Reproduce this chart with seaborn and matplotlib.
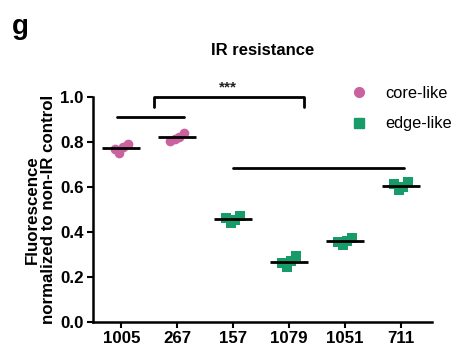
import numpy as np
import pandas as pd
import matplotlib
matplotlib.use("Agg")
import matplotlib.pyplot as plt
import seaborn as sns
from matplotlib.lines import Line2D

# cell lines in plotting order
lines = ["1005", "267", "157", "1079", "1051", "711"]
core_lines = ["1005", "267"]
edge_lines = ["157", "1079", "1051", "711"]

# fluorescence values (4 replicates per line, left to right)
v1005 = [0.768, 0.752, 0.778, 0.792]
v267 = [0.805, 0.812, 0.822, 0.838]
v157 = [0.462, 0.440, 0.450, 0.470]
v1079 = [0.262, 0.245, 0.270, 0.290]
v1051 = [0.355, 0.340, 0.360, 0.372]
v711 = [0.612, 0.585, 0.600, 0.622]
reps = ["r1", "r2", "r3", "r4"]

values = [v1005, v267, v157, v1079, v1051, v711]
df = pd.DataFrame({
    "line": np.repeat(lines, [len(v) for v in values]),
    "value": np.concatenate(values),
    "rep": reps * len(values),
})
df["type"] = np.where(df["line"].isin(core_lines), "core-like", "edge-like")
core = df[df["type"] == "core-like"]
edge = df[df["type"] == "edge-like"]

pink = "#C9629E"
green = "#179B68"

# replicates are dodged side by side; empty padding levels keep the spread narrow
rep_order = ["p1", "p2", "p3"] + reps + ["p4", "p5", "p6"]

sns.set_style("ticks", {"axes.edgecolor": "black", "text.color": "black",
                        "axes.labelcolor": "black", "xtick.color": "black",
                        "ytick.color": "black"})
plt.rcParams["font.family"] = ["Liberation Sans", "DejaVu Sans"]
plt.rcParams["font.weight"] = "bold"

fig = plt.figure(figsize=(4.56, 3.53), dpi=100)
ax = fig.add_axes([0.2046, 0.0887, 0.742, 0.6373])

sns.stripplot(data=core, x="line", y="value", order=lines, hue="rep", hue_order=rep_order,
              palette=[pink] * len(rep_order), dodge=True, jitter=False, legend=False,
              marker="o", size=7, linewidth=0, ax=ax, zorder=2)
sns.stripplot(data=edge, x="line", y="value", order=lines, hue="rep", hue_order=rep_order,
              palette=[green] * len(rep_order), dodge=True, jitter=False, legend=False,
              marker="s", size=6.5, linewidth=0, ax=ax, zorder=2)
sns.pointplot(data=df, x="line", y="value", order=lines, estimator="mean",
              errorbar=None, linestyle="none", color="black", markers="_",
              markersize=27, markeredgewidth=2, ax=ax, zorder=3)

ax.set_xlim(-0.5, 5.55)
ax.set_ylim(0, 1.0)
ax.set_yticks([0.0, 0.2, 0.4, 0.6, 0.8, 1.0])
ax.set_yticklabels(["0.0", "0.2", "0.4", "0.6", "0.8", "1.0"])
ax.set_xlabel("")
ax.set_ylabel("Fluorescence\nnormalized to non-IR control", fontsize=12.2, fontweight="bold",
              labelpad=3, linespacing=1.05)
ax.tick_params(axis="both", labelsize=12.2, width=1.5, length=4.5, pad=2.5)
for lab in ax.get_xticklabels() + ax.get_yticklabels():
    lab.set_fontweight("bold")
for s in ["left", "bottom"]:
    ax.spines[s].set_linewidth(1.8)
sns.despine(ax=ax)
ax.set_title("IR resistance", fontsize=12, fontweight="bold", pad=30)

# significance markings
kw = dict(color="black", lw=2, clip_on=False)
ax.plot([-0.07, 1.12], [0.908, 0.908], **kw)
ax.plot([0.59, 0.59, 3.27, 3.27], [0.954, 1.0, 1.0, 0.954], **kw)
ax.plot([2.0, 5.06], [0.684, 0.684], **kw)
ax.text(1.9, 1.01, "***", ha="center", va="bottom", fontsize=11, fontweight="bold",
        color="#222222")

handles = [
    Line2D([], [], marker="o", color=pink, linestyle="none", markersize=7),
    Line2D([], [], marker="s", color=green, linestyle="none", markersize=6.5),
]
ax.legend(handles, ["core-like", "edge-like"], frameon=False, loc="upper left",
          bbox_to_anchor=(0.761, 1.048), prop={"size": 11.8, "weight": "normal"},
          handlelength=1.0, handletextpad=1.08, labelspacing=0.95,
          borderpad=0, borderaxespad=0)

fig.text(0.027, 0.905, "g", fontsize=20, fontweight="bold")

fig.savefig("out.png", dpi=100)
plt.close(fig)
